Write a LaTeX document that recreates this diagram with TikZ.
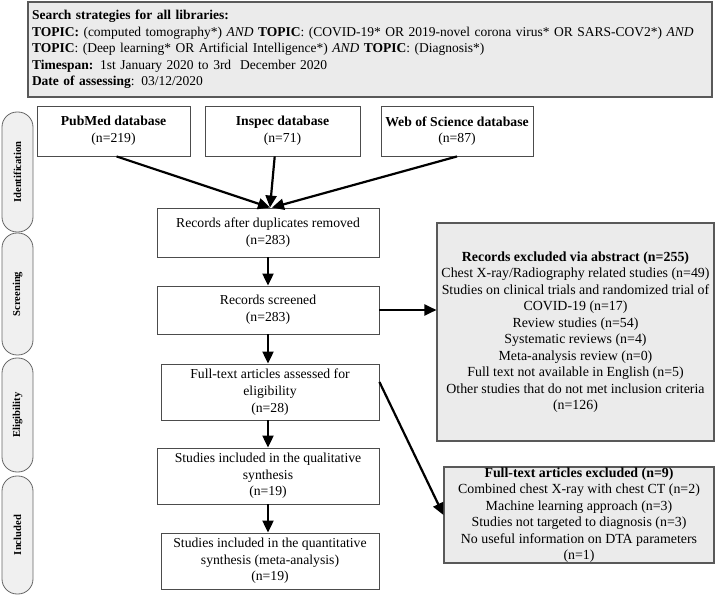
\documentclass[tikz,border=0pt]{standalone}
\usepackage{fontspec}
\setmainfont{Liberation Serif}
\usetikzlibrary{arrows.meta,calc}
\newcommand\myfs{\fontsize{13.7}{16.7}\selectfont}
\newcommand\topfs{\fontsize{13.5}{16.5}\selectfont}
\newcommand\exfs{\fontsize{13.9}{16.5}\selectfont}
\begin{document}
\begin{tikzpicture}[x=1pt,y=-1pt,
  wbox/.style={draw=black!70, line width=0.9pt, fill=white, inner sep=0pt, align=center, font=\myfs},
  gbox/.style={draw=black!65, line width=1.1pt, fill=black!8, inner sep=0pt, align=center, font=\exfs},
  pill/.style={draw=black!60, line width=0.8pt, fill=black!6, rounded corners=15pt, inner sep=0pt, font=\fontsize{10.6}{12}\selectfont\bfseries, minimum height=31pt, rotate=90},
  arr/.style={line width=2.2pt, -{Triangle[length=12pt,width=11pt]}}]
\useasboundingbox (0,0) rectangle (716,596);

% search strategy box
\node[gbox, font=\topfs, minimum width=684pt, minimum height=95pt, text width=676pt, align=left] (top) at (370,49.5)
{\textbf{Search strategies for all libraries:}\\
\textbf{TOPIC:} (computed tomography*) \textit{AND} \textbf{TOPIC}: (COVID-19* OR 2019-novel corona virus* OR SARS-COV2*) \textit{AND}\\
\textbf{TOPIC}: (Deep learning* OR Artificial Intelligence*) \textit{AND} \textbf{TOPIC}: (Diagnosis*)\\
\textbf{Timespan:} 1st January 2020 to 3rd\ \ December 2020\\
\textbf{Date of assessing}: 03/12/2020};

% phase pills
\node[pill, minimum width=120pt] (pid) at (17.5,172) {Identification};
\node[pill, minimum width=122pt] (psc) at (17.5,294) {Screening};
\node[pill, minimum width=114pt] (pel) at (17.5,415) {Eligibility};
\node[pill, minimum width=118pt] (pin) at (17.5,535) {Included};

% databases
\node[wbox, minimum width=153pt, minimum height=50pt] (pub) at (113.5,131) {\textbf{PubMed database}\\(n=219)};
\node[wbox, minimum width=155pt, minimum height=50pt] (insp) at (282.5,131) {\textbf{Inspec database}\\(n=71)};
\node[wbox, minimum width=152pt, minimum height=50pt] (wos) at (457,131) {\textbf{Web of Science database}\\(n=87)};

% main column
\node[wbox, minimum width=222pt, minimum height=49pt] (dup) at (268,232.5) {Records after duplicates removed\\(n=283)};
\node[wbox, minimum width=222pt, minimum height=48pt] (scr) at (268,310) {Records screened\\(n=283)};
\node[wbox, minimum width=218pt, minimum height=56pt] (full) at (270,392) {Full-text articles assessed for\\eligibility\\(n=28)};
\node[wbox, minimum width=222pt, minimum height=56pt] (qual) at (268,476) {Studies included in the qualitative\\synthesis\\(n=19)};
\node[wbox, minimum width=218pt, minimum height=56pt] (quant) at (270,561) {Studies included in the quantitative\\synthesis (meta-analysis)\\(n=19)};

% exclusion boxes
\node[gbox, minimum width=277pt, minimum height=218pt] (ex1) at (575.5,332)
{\textbf{Records excluded via abstract (n=255)}\\
Chest X-ray/Radiography related studies (n=49)\\
Studies on clinical trials and randomized trial of\\
COVID-19 (n=17)\\
Review studies (n=54)\\
Systematic reviews (n=4)\\
Meta-analysis review (n=0)\\
Full text not available in English (n=5)\\
Other studies that do not met inclusion criteria\\
(n=126)};
\node[gbox, minimum width=270pt, minimum height=96pt] (ex2) at (579,515)
{\textbf{Full-text articles excluded (n=9)}\\
Combined chest X-ray with chest CT (n=2)\\
Machine learning approach (n=3)\\
Studies not targeted to diagnosis (n=3)\\
No useful information on DTA parameters\\
(n=1)};

% connectors
\draw[arr] ($(pub.south west)!0.52!(pub.south east)$) -- ([xshift=2pt]dup.north);
\draw[arr] ($(insp.south west)!0.45!(insp.south east)$) -- ([xshift=2pt]dup.north);
\draw[arr] (wos.south) -- ([xshift=4pt]dup.north);
\draw[arr] (dup.south) -- (scr.north);
\draw[arr] (scr.south) -- (scr.south |- full.north);
\draw[arr] (full.south -| qual.north) -- (qual.north);
\draw[arr] (qual.south) -- (qual.south |- quant.north);
\draw[arr] (scr.east) -- (scr.east -| ex1.west);
\draw[arr] ([yshift=10pt]full.east) -- (ex2.west);
\end{tikzpicture}
\end{document}
